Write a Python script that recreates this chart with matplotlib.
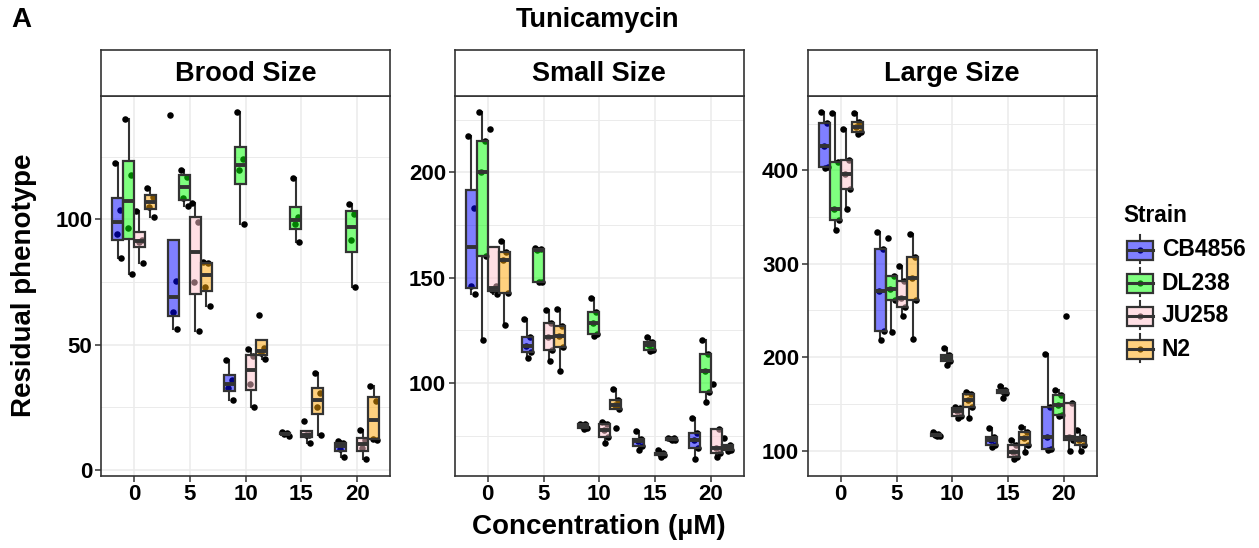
import matplotlib
matplotlib.use("Agg")
import matplotlib.pyplot as plt
from matplotlib.patches import Rectangle

plt.rcParams['font.family'] = ['Liberation Sans', 'DejaVu Sans']
plt.rcParams['font.weight'] = 'bold'

# ---- data (residual phenotype per replicate) ----
strains = ["CB4856", "DL238", "JU258", "N2"]
conc = [0, 5, 10, 15, 20]
fills = ["#0000FF", "#00FF00", "#FFC0CB", "#FFA500"]
panels = ["Brood Size", "Small Size", "Large Size"]

brood_CB4856 = [[122.4, 103.7, 94.0, 84.7], [141.7, 75.3, 62.9, 56.3], [44.0, 36.0, 32.9, 28.0],
                [15.0, 14.7, 14.4, 13.6], [11.6, 10.6, 8.4, 5.3]]
brood_DL238 = [[140.0, 117.7, 96.7, 78.0], [119.6, 116.9, 108.7, 105.3], [142.9, 124.0, 119.7, 98.0],
               [116.3, 101.1, 98.0, 90.9], [106.0, 102.3, 91.7, 73.1]]
brood_JU258 = [[103.3, 91.9, 91.1, 82.4], [106.7, 98.9, 74.9, 55.6], [48.3, 45.3, 34.3, 25.1],
               [19.6, 14.0, 13.8, 10.9], [16.0, 11.9, 8.7, 4.4]]
brood_N2 = [[112.3, 108.8, 104.9, 101.1], [83.0, 82.5, 73.2, 65.6], [62.0, 48.5, 46.6, 44.3],
            [38.7, 30.7, 25.1, 14.0], [33.7, 27.6, 12.5, 12.0]]

small_CB4856 = [[217.5, 182.9, 146.3, 142.1], [130.2, 121.9, 117.8, 114.6, 111.9], [80.8, 80.5, 79.5, 78.5, 78.0],
                [77.1, 73.7, 72.4, 70.2, 68.3], [83.3, 76.5, 73.0, 69.0, 64.0]]
small_DL238 = [[228.9, 214.8, 200.0, 160.3, 120.3], [164.3, 163.5, 163.0, 148.0, 148.0], [140.5, 133.7, 128.6, 123.3, 122.2],
               [121.9, 119.5, 118.3, 115.5, 115.1], [120.6, 114.0, 105.6, 95.7, 91.0]]
small_JU258 = [[220.6, 146.0, 144.0, 142.1], [134.6, 128.6, 121.9, 115.6, 110.3], [81.4, 80.5, 77.8, 74.6, 71.7],
               [68.3, 67.0, 66.5, 66.0, 65.1], [99.7, 78.3, 69.0, 66.7, 65.1]]
small_N2 = [[167.5, 162.4, 158.4, 142.9, 127.8], [135.4, 127.3, 122.2, 117.0, 105.9], [97.1, 92.1, 89.7, 87.8, 78.9],
            [74.0, 73.8, 73.5, 73.2, 72.8], [74.1, 70.6, 69.5, 68.3, 67.8]]

large_CB4856 = [[462.7, 450.5, 425.5, 403.0, 402.9], [333.9, 316.0, 270.6, 227.7, 218.0], [119.7, 117.5, 116.8, 116.0, 115.5],
                [124.0, 115.0, 111.4, 106.1, 103.6], [203.4, 146.5, 115.0, 101.4, 100.7]]
large_DL238 = [[461.2, 409.0, 358.9, 346.8, 336.0], [327.8, 287.4, 273.1, 260.9, 227.0], [209.8, 202.6, 199.1, 195.5, 191.9],
               [168.7, 165.1, 163.5, 161.5, 156.2], [165.1, 159.7, 149.0, 138.3, 137.0]]
large_JU258 = [[444.0, 411.2, 395.8, 380.4, 358.2], [297.4, 281.3, 263.4, 253.8, 244.5], [146.5, 146.1, 142.6, 137.6, 134.7],
               [111.4, 106.1, 98.9, 92.8, 90.7], [243.8, 150.8, 115.0, 111.4, 100.0]]
large_N2 = [[461.2, 451.2, 445.8, 440.5, 438.7], [331.4, 307.1, 284.9, 261.7, 219.8], [163.3, 160.8, 154.4, 147.2, 134.7],
            [125.0, 120.4, 113.2, 106.1, 98.9], [122.2, 115.0, 111.4, 106.1, 100.0]]

brood_ticks = [0, 50, 100]
small_ticks = [100, 150, 200]
large_ticks = [100, 200, 300, 400]

panel_data = [[brood_CB4856, brood_DL238, brood_JU258, brood_N2],
              [small_CB4856, small_DL238, small_JU258, small_N2],
              [large_CB4856, large_DL238, large_JU258, large_N2]]
panel_ticks = [brood_ticks, small_ticks, large_ticks]
panel_minor = [[25, 75, 125], [75, 125, 175, 225], [150, 250, 350, 450]]
panel_ylim = [(-2.4, 149.2), (55.9, 236.3), (72.9, 479.5)]

# ---- layout in pixels ----
W, H = 1259, 548
def fa(l, t, r, b):
    return [l / W, 1 - b / H, (r - l) / W, (b - t) / H]

fig = plt.figure(figsize=(W / 100, H / 100), dpi=100)
edge = "#333333"
lefts = [100.7, 454.5, 807.5]
pw = 289.3
dodge = 0.975
offsets = [-1.5 * dodge, -0.5 * dodge, 0.5 * dodge, 1.5 * dodge]
jit = [-0.28, 0.22, -0.08, 0.32, 0.05]

for p in range(3):
    l = lefts[p]
    ax = fig.add_axes(fa(l, 96, l + pw, 476))
    ax.set_xlim(-2.98, 22.94)
    ax.set_ylim(*panel_ylim[p])
    ax.set_xticks(conc)
    ax.set_yticks(panel_ticks[p])
    ax.set_yticks(panel_minor[p], minor=True)
    ax.grid(True, which='major', color='#EBEBEB', lw=1.1, zorder=0)
    ax.grid(True, which='minor', axis='y', color='#EBEBEB', lw=0.7, zorder=0)
    ax.tick_params(which='minor', length=0)
    ax.tick_params(which='major', length=4, width=1.1, color=edge, labelsize=16, pad=2)
    for lab in ax.get_xticklabels() + ax.get_yticklabels():
        lab.set_fontweight('bold')
        lab.set_color('black')
    for s in ax.spines.values():
        s.set_color(edge)
        s.set_linewidth(1.2)
    ax.set_axisbelow(True)

    for si in range(4):
        groups = panel_data[p][si]
        pos = [c + offsets[si] for c in conc]
        # jittered points under the translucent boxes
        for g, x0 in zip(groups, pos):
            xs = [x0 + jit[k % len(jit)] * dodge for k in range(len(g))]
            ax.scatter(xs, g, s=22, color='black', zorder=2, linewidths=0)
        bp = ax.boxplot(groups, positions=pos, widths=dodge, patch_artist=True,
                        showfliers=False, showcaps=False, whis=1.5, manage_ticks=False,
                        boxprops=dict(edgecolor=edge, linewidth=1.6),
                        whiskerprops=dict(color=edge, linewidth=1.5),
                        medianprops=dict(color=edge, linewidth=2.8, solid_capstyle='butt'))
        for b in bp['boxes']:
            b.set_facecolor(matplotlib.colors.to_rgba(fills[si], 0.5))
            b.set_zorder(3)
        for m in bp['medians']:
            m.set_zorder(4)
        for w in bp['whiskers']:
            w.set_zorder(1.5)

    # strip
    sax = fig.add_axes(fa(l, 50, l + pw, 96))
    sax.set_xticks([]); sax.set_yticks([])
    for s in sax.spines.values():
        s.set_color(edge)
        s.set_linewidth(1.2)
    sax.text(0.5, 0.48, panels[p], ha='center', va='center', fontsize=19.5,
             fontweight='bold', transform=sax.transAxes)

# titles / axis labels
fig.text(11 / W, 1 - 20 / H, "A", fontsize=20, fontweight='bold', va='center', ha='left')
fig.text(598 / W, 1 - 20 / H, "Tunicamycin", fontsize=19.5, fontweight='bold', va='center', ha='center')
fig.text(599 / W, 1 - 527 / H, "Concentration (\u00b5M)", fontsize=20, fontweight='bold', va='center', ha='center')
fig.text(24 / W, 1 - 285 / H, "Residual phenotype", fontsize=20, fontweight='bold', va='center',
         ha='center', rotation=90)

# legend drawn in pixel space
lax = fig.add_axes([0, 0, 1, 1])
lax.set_xlim(0, W); lax.set_ylim(H, 0)
lax.axis('off')
lax.text(1123, 215, "Strain", fontsize=16.3, fontweight='bold', va='center', ha='left')
for i, (st, fc) in enumerate(zip(strains, fills)):
    yc = 250 + 33 * i
    lax.plot([1140, 1140], [yc - 15, yc + 13], color=edge, lw=1.5, zorder=1)
    lax.add_patch(Rectangle((1127, yc - 9.5), 26, 19, facecolor='white', edgecolor='none', zorder=1.5))
    lax.scatter([1140], [yc], s=20, color='black', zorder=2, linewidths=0)
    lax.add_patch(Rectangle((1127, yc - 9.5), 26, 19, facecolor=matplotlib.colors.to_rgba(fc, 0.5),
                            edgecolor=edge, lw=1.6, zorder=3))
    lax.plot([1127, 1153], [yc, yc], color=edge, lw=2.2, zorder=4)
    lax.text(1162, yc, st, fontsize=16.5, fontweight='bold', va='center', ha='left')

fig.savefig("out.png", dpi=100)
